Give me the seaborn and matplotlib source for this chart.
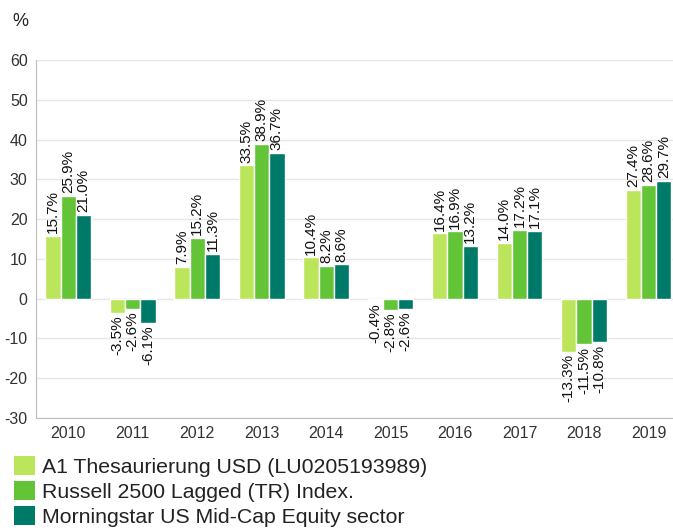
import pandas as pd
import matplotlib
matplotlib.use("Agg")
import matplotlib.pyplot as plt
import seaborn as sns
from matplotlib.patches import Patch

# data
years = ["2010", "2011", "2012", "2013", "2014", "2015", "2016", "2017", "2018", "2019"]
series = [
    "A1 Thesaurierung USD (LU0205193989)",
    "Russell 2500 Lagged (TR) Index.",
    "Morningstar US Mid-Cap Equity sector",
]
fund = [15.7, -3.5, 7.9, 33.5, 10.4, -0.4, 16.4, 14.0, -13.3, 27.4]
index = [25.9, -2.6, 15.2, 38.9, 8.2, -2.8, 16.9, 17.2, -11.5, 28.6]
sector = [21.0, -6.1, 11.3, 36.7, 8.6, -2.6, 13.2, 17.1, -10.8, 29.7]
colors = ["#BBE55A", "#62C436", "#007A68"]

df = pd.DataFrame({
    "year": years * 3,
    "value": fund + index + sector,
    "series": [series[0]] * 10 + [series[1]] * 10 + [series[2]] * 10,
})

sns.set_style("white")
plt.rcParams["font.family"] = ["Liberation Sans", "DejaVu Sans"]
plt.rcParams["axes.unicode_minus"] = False

fig = plt.figure(figsize=(6.73, 5.31), dpi=100)
ax = fig.add_axes([0.0535, 0.2128, 0.9465, 0.6742])

sns.barplot(data=df, x="year", y="value", hue="series", palette=colors,
            saturation=1, width=0.71, edgecolor="white", linewidth=1,
            legend=False, ax=ax)

for cont in ax.containers:
    vals = cont.datavalues
    ax.bar_label(cont, labels=[f"{v:.1f}%" for v in vals], rotation=90,
                 padding=2, fontsize=11, color="#111111")

ax.set_ylim(-30, 60)
ax.set_yticks(range(-30, 61, 10))
ax.set_xlim(-0.5, 9.38)
ax.set_xlabel("")
ax.set_ylabel("")
ax.grid(axis="y", color="#E6E6E6", linewidth=1)
ax.set_axisbelow(True)
for s in ["top", "right"]:
    ax.spines[s].set_visible(False)
for s in ["left", "bottom"]:
    ax.spines[s].set_color("#BBBBBB")
ax.tick_params(axis="both", length=0, labelsize=11.5, labelcolor="#333333", pad=6)

fig.text(0.018, 0.975, "%", fontsize=13, color="#222222", va="top", ha="left")

handles = [Patch(facecolor=c, edgecolor="none") for c in colors]
fig.legend(handles, series, loc="upper left", bbox_to_anchor=(0.021, 0.141),
           frameon=False, fontsize=15.3, handlelength=1.0, handleheight=1.0,
           labelspacing=0.19, handletextpad=0.33, borderpad=0, borderaxespad=0,
           labelcolor="#222222")

fig.savefig("out.png", dpi=100)
